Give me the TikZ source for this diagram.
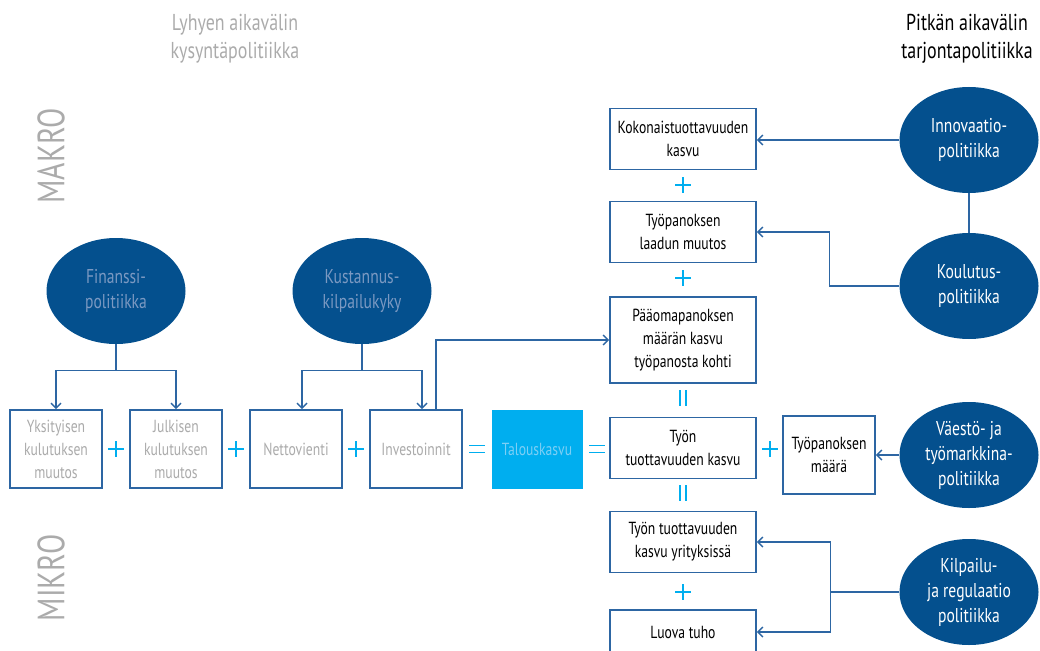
\documentclass[tikz,border=0pt]{standalone}
\usepackage{fontspec}
\setmainfont{PT Sans}[FakeStretch=0.78]
\usetikzlibrary{shapes.geometric,arrows.meta}

\definecolor{polBlue}{HTML}{04508E}
\definecolor{lineBlue}{HTML}{2D66A3}
\definecolor{growthCyan}{HTML}{00AEEF}
\definecolor{lightCyan}{HTML}{7DCFF5}
\definecolor{fadeText}{HTML}{ABABAB}
\definecolor{fadePol}{HTML}{7B99C2}

\tikzset{
  policy/.style={ellipse, fill=polBlue, text=white, align=center,
    minimum width=139pt, minimum height=106pt, inner sep=0pt,
    font=\fontsize{20}{25}\selectfont},
  growthBox/.style={draw=lineBlue, line width=1.6pt, fill=white, align=center,
    minimum width=146pt, minimum height=61pt, inner sep=2pt,
    font=\fontsize{17.5}{23}\selectfont},
  demandBox/.style={growthBox, text=fadeText, minimum width=92pt, minimum height=78pt},
  connLine/.style={draw=lineBlue, line width=1.4pt},
  feeds/.style={connLine, -{Straight Barb[length=5pt,width=10pt]}},
  opSign/.style={draw=growthCyan, line width=1.3pt},
  sideLabel/.style={rotate=90, text=fadeText, font=\fontsize{38}{38}\selectfont},
}

\begin{document}
\begin{tikzpicture}[x=1pt,y=-1pt]
    \newcommand{\plusSign}[1]{
        \draw[opSign] (#1) ++(-8,0) -- ++(16,0) (#1) ++(0,-8) -- ++(0,16);
    }
    \newcommand{\eqSign}[1]{
        \draw[opSign] (#1) ++(-8,-3.5) -- ++(16,0) (#1) ++(-8,3.5) -- ++(16,0);
    }
    \newcommand{\eqSignV}[1]{
        \draw[opSign] (#1) ++(-3,-8) -- ++(0,16) (#1) ++(3,-8) -- ++(0,16);
    }
\useasboundingbox (0,0) rectangle (1040,650);
\clip (0,0) rectangle (1040,650);

% titles
\node[text=fadeText, align=center, font=\fontsize{23}{28}\selectfont] (lyhyt) at (235,39)
  {Lyhyen aikavälin\\kysyntäpolitiikka};
\node[align=center, font=\fontsize{23}{28}\selectfont] (pitka) at (967,39)
  {Pitkän aikavälin\\tarjontapolitiikka};
\node[sideLabel] (makro) at (51,156) {MAKRO};
\node[sideLabel] (mikro) at (51,578) {MIKRO};

% policies
\node[policy, text=fadePol] (finanssi) at (116,291) {Finanssi-\\politiikka};
\node[policy, text=fadePol] (kustannus) at (362,291) {Kustannus-\\kilpailukyky};
\node[policy] (innovaatio) at (969,140) {Innovaatio-\\politiikka};
\node[policy] (koulutus) at (969,286) {Koulutus-\\politiikka};
\node[policy] (vaesto) at (969,455) {Väestö- ja\\työmarkkina-\\politiikka};
\node[policy] (kilpailu) at (969,592) {Kilpailu-\\ja regulaatio\\politiikka};

% demand side
\node[demandBox] (yksityinen) at (56,449) {Yksityisen\\kulutuksen\\muutos};
\node[demandBox] (julkinen) at (176,449) {Julkisen\\kulutuksen\\muutos};
\node[demandBox] (nettovienti) at (296,449) {Nettovienti};
\node[demandBox] (investoinnit) at (416,449) {Investoinnit};
\node[growthBox, draw=none, fill=growthCyan, text=lightCyan, minimum width=91pt, minimum height=79pt]
  (kasvu) at (537,449) {Talouskasvu};

% supply side
\node[growthBox] (kokonais) at (683,139) {Kokonaistuottavuuden\\kasvu};
\node[growthBox] (laatu) at (683,232) {Työpanoksen\\laadun muutos};
\node[growthBox, minimum height=86pt] (paaoma) at (683,340) {Pääomapanoksen\\määrän kasvu\\työpanosta kohti};
\node[growthBox] (tuottavuus) at (683,448) {Työn\\tuottavuuden kasvu};
\node[demandBox, text=black] (maara) at (829,455) {Työpanoksen\\määrä};
\node[growthBox] (yritykset) at (683,542) {Työn tuottavuuden\\kasvu yrityksissä};
\node[growthBox, minimum height=44pt] (luova) at (683,632) {Luova tuho};

\plusSign{116,449}
\plusSign{236,449}
\plusSign{356,449}
\eqSign{477,449}
\eqSign{597,449}
\plusSign{683,185}
\plusSign{683,278}
\eqSignV{683,398}
\eqSignV{683,493}
\plusSign{770,449}
\plusSign{683,592}

\draw[feeds] (finanssi.south) -- ++(0,26) -| (yksityinen.north);
\draw[feeds] (finanssi.south) -- ++(0,26) -| (julkinen.north);
\draw[feeds] (kustannus.south) -- ++(0,26) -| ([xshift=6pt]nettovienti.north);
\draw[feeds] (kustannus.south) -- ++(0,26) -| ([xshift=6pt]investoinnit.north);
\draw[feeds] ([xshift=20pt]investoinnit.north) |- (paaoma.west);

\draw[feeds] (innovaatio.west) -- (innovaatio.west -| kokonais.east);
\draw[connLine] (innovaatio.south) -- (koulutus.north);
\draw[feeds] (koulutus.west) -- ++(-70,0) |- (laatu.east);
\draw[feeds] (vaesto.west) -- (maara.east);
\draw[connLine] (kilpailu.west) -- ++(-69,0) coordinate (haara);
\draw[feeds] (haara) |- (yritykset.east);
\draw[feeds] (haara) |- (luova.east);

\end{tikzpicture}
\end{document}
